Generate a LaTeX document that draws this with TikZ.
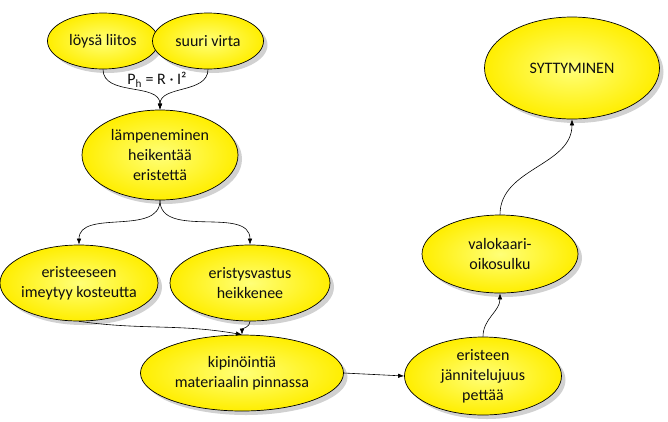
\documentclass[tikz,border=0pt]{standalone}
\usepackage{fontspec}
\setmainfont{Carlito}
\usetikzlibrary{shapes.geometric,arrows.meta,shadows}
\definecolor{ylin}{RGB}{255,255,120}
\definecolor{ylout}{RGB}{255,238,0}
\definecolor{txt}{RGB}{15,15,15}
\tikzset{
  bub/.style={ellipse, draw=black, line width=0.7pt, inner sep=-4pt,
    inner color=ylin, outer color=ylout,
    drop shadow={shadow xshift=4pt, shadow yshift=-4pt, opacity=0.18, fill=black},
    font=\fontsize{16}{20}\selectfont, text=txt, align=center},
  conn/.style={draw=black, line width=0.6pt, -{Latex[length=6pt,width=4.5pt]}}
}
\begin{document}
\begin{tikzpicture}[x=1pt,y=1pt]
\useasboundingbox (0,0) rectangle (668,-421);
\node[bub, minimum width=111, minimum height=56] (a) at (103,-41) {löysä liitos};
\node[bub, minimum width=111, minimum height=56] (b) at (208,-41) {suuri virta};
\node[bub, minimum width=156, minimum height=90] (c) at (160,-155) {lämpeneminen\\heikentää\\eristettä};
\node[bub, minimum width=158, minimum height=76] (d) at (79,-283) {eristeeseen\\imeytyy kosteutta};
\node[bub, minimum width=160, minimum height=76] (e) at (250,-283) {eristysvastus\\heikkenee};
\node[bub, minimum width=203, minimum height=76] (f) at (242,-373) {kipinöintiä\\materiaalin pinnassa};
\node[bub, minimum width=157, minimum height=78] (g) at (483,-376) {eristeen\\jännitelujuus\\pettää};
\node[bub, minimum width=156, minimum height=78] (h) at (500,-254) {valokaari-\\oikosulku};
\node[bub, minimum width=175, minimum height=102] (i) at (572,-68) {SYTTYMINEN};
\node[font=\fontsize{16}{18}\selectfont, text=txt] (fm) at (157,-80) {P\textsubscript{h} = R · I²};
\draw[conn] (a.south) to[out=-90,in=90] (c.north);
\draw[conn] (b.south) to[out=-90,in=90] (c.north);
\draw[conn] (c.south) to[out=-90,in=90] (d.north);
\draw[conn] (c.south) to[out=-90,in=90] (e.north);
\draw[conn] (d.south) to[out=-8,in=170] (f.north);
\draw[conn] (e.south) to[out=-90,in=90] (f.north);
\draw[conn] (f.east) -- (g.west);
\draw[conn] (g.north) to[out=90,in=-90] (h.south);
\draw[conn] (h.north) to[out=90,in=-90] (i.south);
\end{tikzpicture}
\end{document}
